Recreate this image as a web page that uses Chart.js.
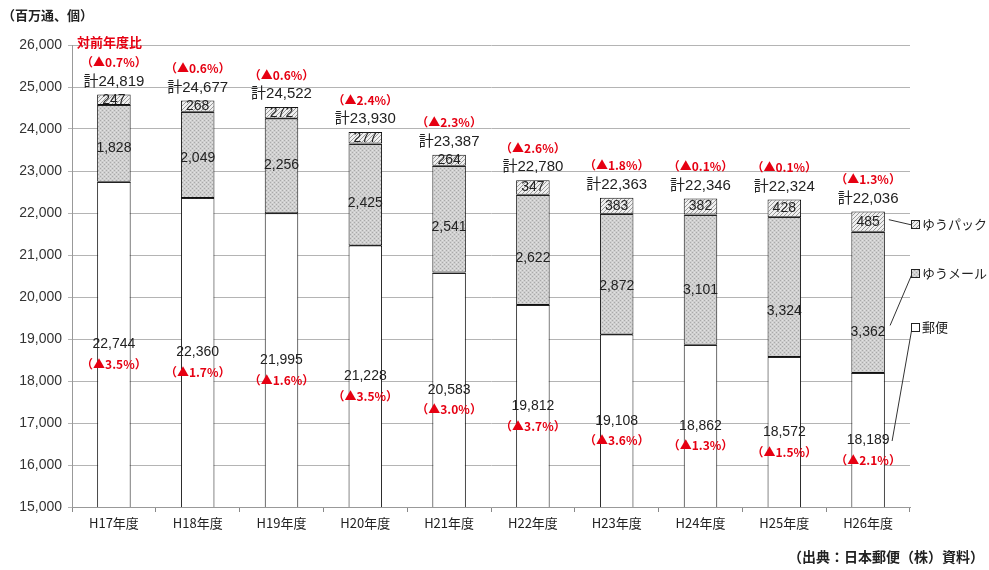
<!DOCTYPE html>
<html>
<head>
<meta charset="utf-8">
<script src="https://cdn.jsdelivr.net/npm/chart.js@4.4.1/dist/chart.umd.min.js"></script>
<style>
  html, body { margin: 0; padding: 0; background: #fff; }
  #wrap { width: 989px; height: 570px; position: relative; }
</style>
</head>
<body>
<div id="wrap"><canvas id="c" width="989" height="570"></canvas></div>
<script>
// --- datos ---
const nendo = ['H17年度', 'H18年度', 'H19年度', 'H20年度', 'H21年度', 'H22年度', 'H23年度', 'H24年度', 'H25年度', 'H26年度'];
const yubin = [22744, 22360, 21995, 21228, 20583, 19812, 19108, 18862, 18572, 18189];
const yuMail = [1828, 2049, 2256, 2425, 2541, 2622, 2872, 3101, 3324, 3362];
const yuPack = [247, 268, 272, 277, 264, 347, 383, 382, 428, 485];
const goukei = [24819, 24677, 24522, 23930, 23387, 22780, 22363, 22346, 22324, 22036];
const goukeiHi = ['0.7', '0.6', '0.6', '2.4', '2.3', '2.6', '1.8', '0.1', '0.1', '1.3'];
const yubinHi = ['3.5', '1.7', '1.6', '3.5', '3.0', '3.7', '3.6', '1.3', '1.5', '2.1'];
const legendNames = ['ゆうパック', 'ゆうメール', '郵便'];

// ajuste manual (px) de la etiqueta de ゆうメール, como en el original
const mailLabelNudge = [5, 3, -1, 9, 8, 8, 12, 10, 24, 30];

const FONT = '"Liberation Sans", "Noto Sans CJK JP", sans-serif';
const JFONT = '"Noto Sans CJK JP", sans-serif';
const RED = '#e60012';

// --- patrones ---
function makePattern(kind) {
  const p = document.createElement('canvas');
  const ctx = p.getContext('2d');
  p.width = 4; p.height = 4;
  if (kind === 'mail') {
    ctx.fillStyle = '#cfcfcf';
    ctx.fillRect(0, 0, 4, 4);
    ctx.fillStyle = '#a9a9a9';
    ctx.fillRect(0, 0, 1, 1);
    ctx.fillRect(2, 2, 1, 1);
    ctx.fillStyle = '#e2e2e2';
    ctx.fillRect(2, 0, 1, 1);
    ctx.fillRect(0, 2, 1, 1);
  } else {
    ctx.fillStyle = '#f0f0f0';
    ctx.fillRect(0, 0, 4, 4);
    ctx.strokeStyle = '#9a9a9a';
    ctx.lineWidth = 1;
    ctx.beginPath();
    ctx.moveTo(0, 4); ctx.lineTo(4, 0);
    ctx.moveTo(-1, 1); ctx.lineTo(1, -1);
    ctx.moveTo(3, 5); ctx.lineTo(5, 3);
    ctx.stroke();
  }
  return document.getElementById('c').getContext('2d').createPattern(p, 'repeat');
}
const mailPattern = makePattern('mail');
const packPattern = makePattern('pack');

function fmtNum(v) {
  return v.toLocaleString('en-US');
}

// --- etiquetas y leyenda ---
const labelPlugin = {
  id: 'labelPlugin',
  afterDatasetsDraw(chart) {
    const { ctx, scales } = chart;
    const y = scales.y;
    const base = y.getPixelForValue(y.min);
    ctx.save();
    const m0 = chart.getDatasetMeta(0).data;
    const m1 = chart.getDatasetMeta(1).data;
    const m2 = chart.getDatasetMeta(2).data;

    // líneas de separación nítidas entre segmentos
    ctx.strokeStyle = '#222';
    ctx.lineWidth = 1;
    nendo.forEach((n, i) => {
      const l = Math.round(m0[i].x - m0[i].width / 2) + 0.5;
      const r = Math.round(m0[i].x + m0[i].width / 2) - 0.5;
      [m1[i].base, m2[i].base].forEach(py => {
        const yy = Math.round(py) + 0.5;
        ctx.beginPath();
        ctx.moveTo(l, yy);
        ctx.lineTo(r, yy);
        ctx.stroke();
      });
    });

    ctx.textAlign = 'center';
    ctx.textBaseline = 'middle';
    const mailY = [];
    nendo.forEach((n, i) => {
      const x = m0[i].x;
      // 郵便
      const yMid = (m0[i].y + base) / 2;
      ctx.fillStyle = '#222';
      ctx.font = '14px ' + FONT;
      ctx.fillText(fmtNum(yubin[i]), x, yMid);
      ctx.fillStyle = RED;
      ctx.font = 'bold 12px ' + JFONT;
      ctx.fillText('（▲' + yubinHi[i] + '%）', x, yMid + 20);
      // ゆうメール
      ctx.fillStyle = '#222';
      ctx.font = '14px ' + FONT;
      mailY[i] = (m1[i].y + m1[i].base) / 2 + mailLabelNudge[i];
      ctx.fillText(fmtNum(yuMail[i]), x, mailY[i]);
      // ゆうパック
      ctx.fillText(fmtNum(yuPack[i]), x, (m2[i].y + m2[i].base) / 2);
      // 合計
      const tTop = m2[i].y;
      ctx.font = '15px ' + FONT;
      ctx.fillStyle = '#222';
      ctx.fillText('計' + fmtNum(goukei[i]), x, tTop - 13);
      ctx.fillStyle = RED;
      ctx.font = 'bold 12px ' + JFONT;
      ctx.fillText('（▲' + goukeiHi[i] + '%）', x, tTop - 32);
    });

    // leyenda a la derecha
    const last = nendo.length - 1;
    const lx = 912;
    const boxes = [
      { y: 224, fill: packPattern, from: [m2[last].x + m2[last].width / 2 + 4, (m2[last].y + m2[last].base) / 2 - 2] },
      { y: 273, fill: mailPattern, from: [m1[last].x + 22, mailY[last] - 7] },
      { y: 327, fill: '#ffffff', from: [m0[last].x + 24, (m0[last].y + base) / 2 + 1] }
    ];
    boxes.forEach((b, k) => {
      ctx.strokeStyle = '#333';
      ctx.lineWidth = 1;
      ctx.beginPath();
      ctx.moveTo(b.from[0], b.from[1]);
      ctx.lineTo(lx, b.y + 1);
      ctx.stroke();
      ctx.fillStyle = b.fill;
      ctx.fillRect(lx - 0.5, b.y - 3.5, 8, 8);
      ctx.strokeStyle = '#222';
      ctx.strokeRect(lx - 0.5, b.y - 3.5, 8, 8);
      ctx.fillStyle = '#222';
      ctx.font = '13px ' + JFONT;
      ctx.textAlign = 'left';
      ctx.fillText(legendNames[k], lx + 10, b.y);
    });

    // textos sueltos
    ctx.textAlign = 'left';
    ctx.fillStyle = '#222';
    ctx.font = 'bold 13px ' + JFONT;
    ctx.fillText('（百万通、個）', 2, 15);
    ctx.fillStyle = RED;
    ctx.font = 'bold 13px ' + JFONT;
    ctx.fillText('対前年度比', 77, 42);
    ctx.fillStyle = '#222';
    ctx.font = 'bold 14px ' + JFONT;
    ctx.textAlign = 'right';
    ctx.fillText('（出典：日本郵便（株）資料）', 984, 557);
    ctx.restore();
  }
};

new Chart(document.getElementById('c'), {
  type: 'bar',
  data: {
    labels: nendo,
    datasets: [
      { label: '郵便', data: yubin, backgroundColor: '#ffffff', borderColor: '#111', borderWidth: 1, borderSkipped: false },
      { label: 'ゆうメール', data: yuMail, backgroundColor: mailPattern, borderColor: '#111', borderWidth: 1, borderSkipped: false },
      { label: 'ゆうパック', data: yuPack, backgroundColor: packPattern, borderColor: '#111', borderWidth: 1, borderSkipped: false }
    ]
  },
  options: {
    responsive: false,
    animation: false,
    datasets: { bar: { categoryPercentage: 1, barPercentage: 0.4 } },
    layout: { padding: { left: 0, right: 79, top: 45, bottom: 33 } },
    scales: {
      x: {
        stacked: true,
        grid: { drawOnChartArea: false, drawTicks: true, tickLength: 5, color: '#888' },
        border: { color: '#999' },
        ticks: { color: '#222', font: { size: 13, family: JFONT }, padding: 3 },
        afterFit(s) { s.height = 30; }
      },
      y: {
        stacked: true,
        min: 15000,
        max: 26000,
        ticks: { stepSize: 1000, color: '#333', font: { size: 14, family: FONT }, padding: 6, callback: v => fmtNum(v) },
        grid: { color: '#b4b4b4', drawTicks: true, tickLength: 4 },
        border: { color: '#999' },
        afterFit(s) { s.width = 72; }
      }
    },
    plugins: {
      legend: { display: false },
      tooltip: { enabled: false }
    }
  },
  plugins: [labelPlugin]
});
</script>
</body>
</html>
